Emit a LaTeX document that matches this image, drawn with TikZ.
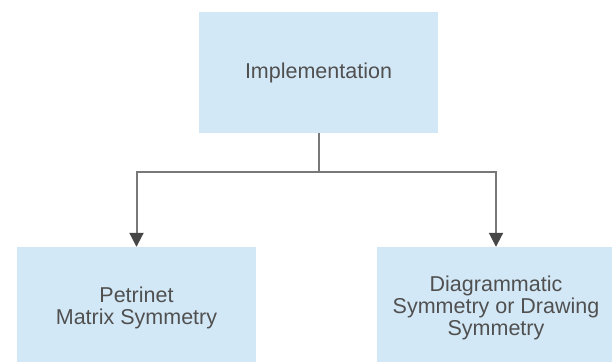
\documentclass[tikz,border=0pt]{standalone}
\usepackage{fontspec}
\setmainfont{Liberation Sans}
\usetikzlibrary{arrows.meta}
\definecolor{boxblue}{RGB}{211,232,246}
\definecolor{textgray}{RGB}{80,80,80}
\definecolor{linegray}{RGB}{120,120,120}
\definecolor{tipgray}{RGB}{70,70,70}
\begin{document}
\begin{tikzpicture}[x=1pt,y=1pt,
  box/.style={fill=boxblue, draw=none, minimum width=239pt, minimum height=121pt,
    inner sep=0pt, align=center, text=textgray, font=\fontsize{21.5}{22}\selectfont},
  link/.style={draw=linegray, line width=2pt},
  arrowlink/.style={link, -{Triangle[length=14pt,width=14pt,color=tipgray]}}]
\useasboundingbox (0,0) rectangle (612,-361);
\clip (0,0) rectangle (612,-361);
% boxes
\node[box] (impl) at (318.5,-72.5) {Implementation};
\node[box, minimum height=122pt] (petri) at (136.5,-308) {Petrinet\\Matrix Symmetry};
\node[box, minimum height=122pt] (diag) at (496,-308) {Diagrammatic\\Symmetry or Drawing\\Symmetry};
% connectors
\coordinate (fork) at (318.5,-172);
\draw[link] (impl.south) -- (fork);
\draw[arrowlink] (fork) -| (petri.north);
\draw[arrowlink] (fork) -| (diag.north);
\end{tikzpicture}
\end{document}
